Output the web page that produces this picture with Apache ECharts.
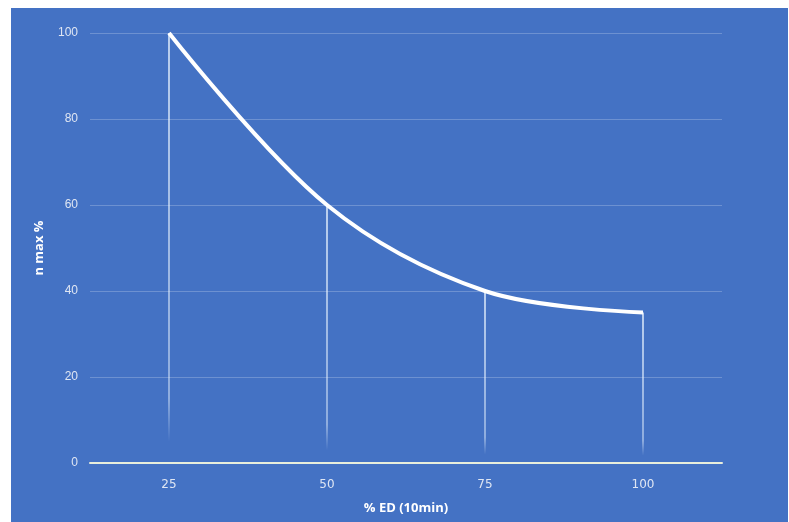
<!DOCTYPE html>
<html>
<head>
<meta charset="utf-8">
<script src="https://cdn.jsdelivr.net/npm/echarts@6/dist/echarts.min.js"></script>
<style>
html,body{margin:0;padding:0;background:#fff;width:789px;height:522px;overflow:hidden;}
#chart{position:absolute;left:11px;top:8px;width:777px;height:514px;}
</style>
</head>
<body>
<div id="chart"></div>
<script>
var categories = ['25', '50', '75', '100'];
var nMax = [100, 60, 40, 35];
var yTicks = [0, 20, 40, 60, 80, 100];

var chart = echarts.init(document.getElementById('chart'));
var labelColor = '#dfe6f3';
chart.setOption({
  backgroundColor: '#4472c4',
  animation: false,
  grid: {left: 79, right: 66, top: 25, bottom: 59, containLabel: false},
  xAxis: {
    type: 'category',
    data: categories,
    boundaryGap: true,
    name: '% ED (10min)',
    nameLocation: 'middle',
    nameGap: 39,
    nameTextStyle: {color: '#ffffff', fontWeight: 'bold', fontSize: 13, fontFamily: 'Open Sans'},
    axisLine: {lineStyle: {color: '#e8eedc', width: 2}},
    axisTick: {show: false},
    axisLabel: {color: labelColor, fontSize: 12, margin: 16, fontFamily: 'DejaVu Sans'}
  },
  yAxis: {
    type: 'value',
    min: yTicks[0],
    max: yTicks[yTicks.length - 1],
    interval: 20,
    name: 'n max %',
    nameLocation: 'middle',
    nameGap: 44,
    nameTextStyle: {color: '#ffffff', fontWeight: 'bold', fontSize: 13, fontFamily: 'Open Sans'},
    axisLine: {show: false},
    axisTick: {show: false},
    axisLabel: {color: labelColor, fontSize: 12, margin: 12, fontFamily: 'Liberation Sans Narrow, Liberation Sans'},
    splitLine: {lineStyle: {color: 'rgba(255,255,255,0.22)', width: 1}}
  },
  series: [
    {
      type: 'bar',
      data: nMax,
      barWidth: 1.5,
      silent: true,
      itemStyle: {
        color: new echarts.graphic.LinearGradient(0, 0, 0, 1, [
          {offset: 0, color: 'rgba(235,245,255,0.95)'},
          {offset: 0.85, color: 'rgba(235,245,255,0.6)'},
          {offset: 0.95, color: 'rgba(235,245,255,0)'},
          {offset: 1, color: 'rgba(235,245,255,0)'}
        ])
      },
      z: 1
    },
    {
      type: 'line',
      data: nMax,
      smooth: 0.35,
      symbol: 'none',
      lineStyle: {color: '#ffffff', width: 4},
      z: 3
    }
  ]
});
</script>
</body>
</html>
